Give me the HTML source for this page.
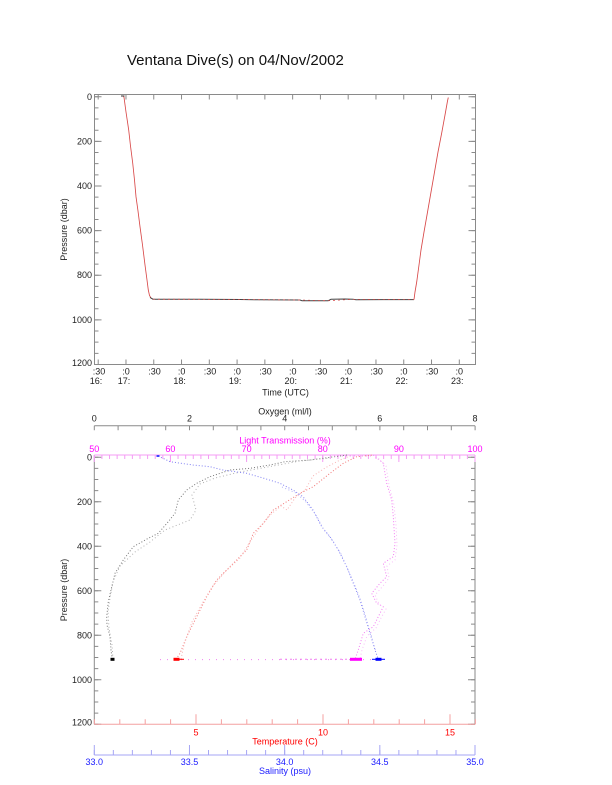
<!DOCTYPE html>
<html><head><meta charset="utf-8"><style>
html,body{margin:0;padding:0;background:#fff;}
svg{display:block;}
text{font-family:"Liberation Sans",Arial,sans-serif;}
</style></head><body>
<svg width="612" height="785" viewBox="0 0 612 785" xmlns="http://www.w3.org/2000/svg">
<rect width="612" height="785" fill="#fff"/>
<text x="127" y="65" font-size="15" fill="#111">Ventana Dive(s) on 04/Nov/2002</text>

<!-- ===== TOP PLOT ===== -->
<g stroke="#8a8a8a" fill="none">
<rect x="94.5" y="94.5" width="381" height="270" stroke-width="1"/>
<line x1="96.5" y1="96.23" x2="96.5" y2="365" stroke-width="4" stroke-dasharray="1 10.157"/>
<line x1="98" y1="96.23" x2="98" y2="365" stroke-width="7" stroke-dasharray="1 43.628"/>
<line x1="473.5" y1="96.23" x2="473.5" y2="365" stroke-width="4" stroke-dasharray="1 10.157"/>
<line x1="472" y1="96.23" x2="472" y2="365" stroke-width="7" stroke-dasharray="1 43.628"/>
<line x1="97.7" y1="362" x2="461" y2="362" stroke-width="5" stroke-dasharray="1 26.777"/>
<line x1="97.7" y1="97" x2="461" y2="97" stroke-width="5" stroke-dasharray="1 26.777"/>
</g>
<g font-size="9" fill="#222" text-anchor="end">
<text x="92" y="100">0</text>
<text x="92" y="144.5">200</text>
<text x="92" y="189">400</text>
<text x="92" y="233.6">600</text>
<text x="92" y="278.2">800</text>
<text x="92" y="322.9">1000</text>
<text x="92" y="366">1200</text>
</g>
<g font-size="9" fill="#222" text-anchor="middle">
<text x="99" y="374.3">:30</text><text x="126" y="374.3">:0</text>
<text x="154.5" y="374.3">:30</text><text x="181.6" y="374.3">:0</text>
<text x="210" y="374.3">:30</text><text x="237.1" y="374.3">:0</text>
<text x="265.5" y="374.3">:30</text><text x="292.7" y="374.3">:0</text>
<text x="321" y="374.3">:30</text><text x="348.2" y="374.3">:0</text>
<text x="376.6" y="374.3">:30</text><text x="403.8" y="374.3">:0</text>
<text x="432" y="374.3">:30</text><text x="459.3" y="374.3">:0</text>
<text x="96" y="383.8">16:</text><text x="124" y="383.8">17:</text>
<text x="179.6" y="383.8">18:</text><text x="235.1" y="383.8">19:</text>
<text x="290.7" y="383.8">20:</text><text x="346.2" y="383.8">21:</text>
<text x="401.8" y="383.8">22:</text><text x="457.3" y="383.8">23:</text>
<text x="285.5" y="395.3">Time (UTC)</text>
<text transform="translate(67,229.5) rotate(-90)">Pressure (dbar)</text>
</g>
<!-- top data -->
<line x1="121" y1="96" x2="124.5" y2="96" stroke="#333" stroke-width="1"/>
<polyline fill="none" stroke="#d84848" stroke-width="0.85" points="123.5,96.5 124,97.3 126,112 128.7,130 130.5,146 132.7,163 134.5,180 136,196.7 138,211 140,226.7 142.5,245 145,265 147,280 148.3,290 149.5,295.5 151,298 153,299.2"/>
<polyline fill="none" stroke="#444" stroke-width="1" points="150,297.5 153,299.2 200,299.3 240,299.5 260,299.8 300,300 302,300.7 328,300.8 331,299.3 345,299 353,299.3 356,299.7 414,299.6"/>
<polyline fill="none" stroke="#d84848" stroke-width="0.7" stroke-dasharray="2 3" points="153,299.2 200,299.3 300,300 328,300.8 353,299.3 414,299.6"/>
<polyline fill="none" stroke="#d84848" stroke-width="0.85" points="414,299.6 415,292 416.7,282 419,265 421,250 424,232 427,215 430.5,195 434,175 438,152 441.7,133 445,115 447.5,101 448.3,97.5"/>

<!-- ===== BOTTOM PLOT ===== -->
<g stroke="#8a8a8a" fill="none">
<line x1="94.3" y1="425.7" x2="475" y2="425.7" stroke-width="1"/>
<line x1="93.8" y1="428" x2="476" y2="428" stroke-width="4.6" stroke-dasharray="1 22.8"/>
</g>
<g font-size="9" fill="#222" text-anchor="middle">
<text x="285" y="414.3">Oxygen (ml/l)</text>
<text x="94.3" y="421.3">0</text><text x="189.5" y="421.3">2</text>
<text x="284.7" y="421.3">4</text><text x="379.8" y="421.3">6</text>
<text x="475" y="421.3">8</text>
</g>
<g font-size="9" fill="#ff00ff" text-anchor="middle">
<text x="285" y="443.3">Light Transmission (%)</text>
<text x="94.3" y="452">50</text><text x="170.4" y="452">60</text>
<text x="246.6" y="452">70</text><text x="322.7" y="452">80</text>
<text x="398.9" y="452">90</text><text x="475" y="452">100</text>
</g>
<g stroke="#8a8a8a" fill="none">
<line x1="94.3" y1="455" x2="94.3" y2="724.3"/>
<line x1="475" y1="455" x2="475" y2="724.3"/>
<line x1="96.3" y1="456.73" x2="96.3" y2="725" stroke-width="4" stroke-dasharray="1 10.128"/>
<line x1="97.8" y1="456.73" x2="97.8" y2="725" stroke-width="7" stroke-dasharray="1 43.512"/>
<line x1="473" y1="456.73" x2="473" y2="725" stroke-width="4" stroke-dasharray="1 10.128"/>
<line x1="471.5" y1="456.73" x2="471.5" y2="725" stroke-width="7" stroke-dasharray="1 43.512"/>
</g>
<g stroke="#f49cf4" fill="none">
<line x1="94.3" y1="455" x2="475" y2="455" stroke-width="1"/>
<line x1="93.8" y1="457" x2="476" y2="457" stroke-width="4" stroke-dasharray="1 6.614"/>
<line x1="93.8" y1="458.5" x2="476" y2="458.5" stroke-width="7" stroke-dasharray="1 75.14"/>
</g>
<g stroke="#f4a0a0" fill="none">
<line x1="94.3" y1="724.3" x2="475" y2="724.3" stroke-width="1"/>
<line x1="93.9" y1="721.8" x2="476" y2="721.8" stroke-width="5" stroke-dasharray="1 24.4"/>
<line x1="196" y1="714.3" x2="196" y2="724.3"/>
<line x1="323" y1="714.3" x2="323" y2="724.3"/>
<line x1="450" y1="714.3" x2="450" y2="724.3"/>
</g>
<g font-size="9" fill="#ff0000" text-anchor="middle">
<text x="196" y="735.5">5</text><text x="323" y="735.5">10</text><text x="450" y="735.5">15</text>
<text x="285" y="744.6">Temperature (C)</text>
</g>
<g stroke="#a6a6f4" fill="none">
<line x1="94.3" y1="755" x2="475" y2="755" stroke-width="1"/>
<line x1="93.8" y1="752.5" x2="476" y2="752.5" stroke-width="5" stroke-dasharray="1 18.035"/>
<line x1="93.8" y1="750" x2="476" y2="750" stroke-width="10" stroke-dasharray="1 94.175"/>
</g>
<g font-size="9" fill="#1a1aff" text-anchor="middle">
<text x="94.3" y="765">33.0</text><text x="189.5" y="765">33.5</text>
<text x="284.7" y="765">34.0</text><text x="379.8" y="765">34.5</text>
<text x="475" y="765">35.0</text>
<text x="285" y="774">Salinity (psu)</text>
</g>
<g font-size="9" fill="#222" text-anchor="end">
<text x="92" y="460.5">0</text>
<text x="92" y="505">200</text>
<text x="92" y="549.5">400</text>
<text x="92" y="594">600</text>
<text x="92" y="638.5">800</text>
<text x="92" y="683">1000</text>
<text x="92" y="725.5">1200</text>
</g>
<text transform="translate(67,590) rotate(-90)" font-size="9" fill="#222" text-anchor="middle">Pressure (dbar)</text>

<!-- bottom data -->
<g fill="none" stroke-width="1">
<polyline stroke="#777" stroke-dasharray="1 2" points="112.3,659.3 111,650 110,636.7 107,625 106.7,616.7 108.3,601.7 111,590 115,573.3 123.3,560 133.3,546.7 148.3,538.3 158.3,533.3 168.3,521.7 175,513.3 178.3,500 186.7,490 196.7,483.3 210,476.7 230,470 250,468.3 270,465 285,461.7 310,460 340,456 347,455"/>
<polyline stroke="#b0b0b0" stroke-dasharray="1 2.5" points="113,659 112,645 109,628 108,612 110,598 113,582 120,566 135,552 150,542 165,530 180,524 190,520 196,510 192,495 200,484 215,478 240,472 262,468 300,461 330,458"/>
<polyline stroke="#f27878" stroke-dasharray="1 2" points="176,659.3 180,653.3 186.7,636.7 196.7,616.7 206.7,596.7 216.7,580 233.3,563.3 246.7,550 253.3,533.3 263.3,523.3 273.3,510 286.7,501.7 300,493.3 313.3,486.7 330,473.3 343.3,463.3 356.7,456.7 373,455"/>
<polyline stroke="#f8b4b4" stroke-dasharray="1 2.2" points="181,659 184,645 192,622 203,602 212,587 225,572 240,558 250,542 258,530 270,515 281,506 287,510 295,498 305,490 313,476 325,468 340,460 350,456"/>
<polyline stroke="#8080f2" stroke-dasharray="1 2" points="158.3,456 170,461.7 193,465 210,466.7 223,470 246.7,473.3 263,478 280,483.3 293,490 303,496.7 313,510 321.7,526.7 330,536.7 338.3,550 346.7,566.7 353.3,583.3 360,600 365,616.7 370,633.3 375,650 378.3,659.3"/>
<polyline stroke="#b4b4f8" stroke-dasharray="1 2.5" points="282,487 296,493 306,502 316,515 324,530 333,541 341,554 349,572 356,588 362,604 367,621 372,638 376,652"/>
<polyline stroke="#f27cf2" stroke-dasharray="1 2" points="373.3,455 383.3,463.3 386.7,483.3 391.7,500 393.3,516.7 395,543.3 393.3,556.7 383.3,563.3 386.7,576.7 380,583.3 371.7,593.3 376.7,603.3 383.3,606.7 378.3,616.7 373.3,626.7 363.3,633.3 358.3,650 355,659.3"/>
<polyline stroke="#f8bcf8" stroke-dasharray="1 2.5" points="376,456 386,466 389,485 394,505 396,525 397,545 395,560 387,566 389,578 383,586 375,595 379,604 386,609 381,618 376,628 367,636 362,650 360,659"/>
<line x1="160" y1="659.6" x2="382" y2="659.6" stroke="#f080f0" stroke-dasharray="1 6"/>
<line x1="280" y1="659.3" x2="350" y2="659.3" stroke="#f080f0" stroke-dasharray="2 3"/>
<line x1="330" y1="456" x2="372" y2="456" stroke="#f5a8f5" stroke-dasharray="1 3"/>
</g>
<rect x="110.5" y="657.8" width="4" height="3" fill="#000"/>
<rect x="173.5" y="657.8" width="6" height="3" fill="#f00"/>
<line x1="179" y1="659.3" x2="184" y2="659.3" stroke="#f00"/>
<rect x="350" y="657.8" width="12" height="3" fill="#ff00ff"/>
<rect x="375.5" y="657.8" width="6" height="3" fill="#0000ff"/>
<line x1="372" y1="659.3" x2="385" y2="659.3" stroke="#0000ff"/>
<rect x="156.5" y="455" width="3" height="2" fill="#4040ff"/>
</svg>
</body></html>
